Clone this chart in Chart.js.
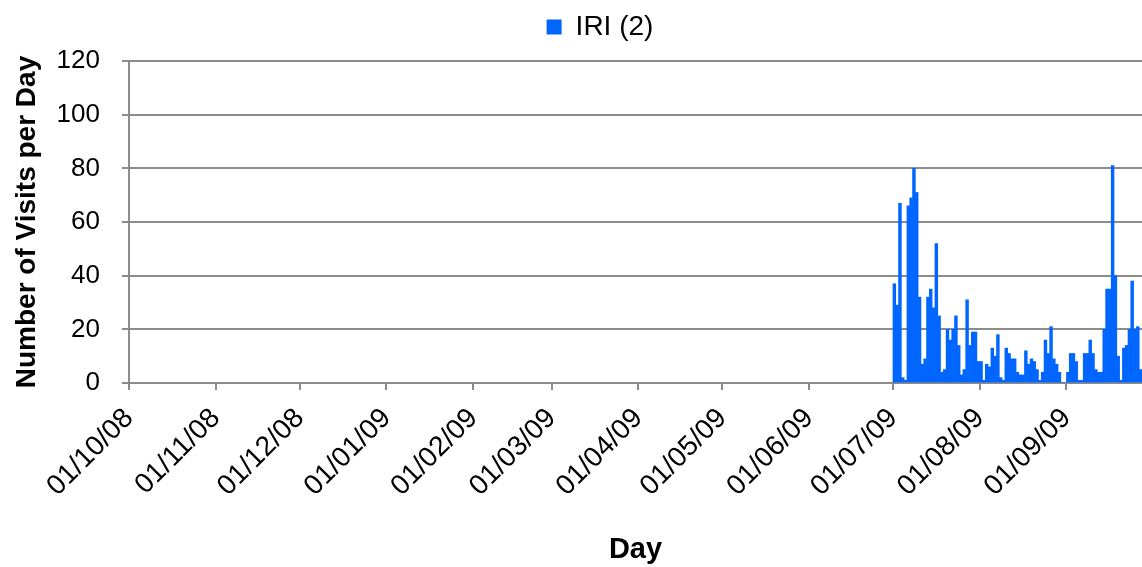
<!DOCTYPE html>
<html>
<head>
<meta charset="utf-8">
<script src="https://cdn.jsdelivr.net/npm/chart.js@4.4.0/dist/chart.umd.min.js"></script>
<style>
  body { margin: 0; background: #fff; }
  #wrap { width: 1142px; height: 567px; }
</style>
</head>
<body>
<div id="wrap"><canvas id="chart"></canvas></div>
<script>
// days counted from 01/10/08 (day 0)
const monthStartDays = [0, 31, 61, 92, 123, 151, 182, 212, 243, 273, 304, 335];
const monthLabels = ["01/10/08", "01/11/08", "01/12/08", "01/01/09", "01/02/09", "01/03/09",
  "01/04/09", "01/05/09", "01/06/09", "01/07/09", "01/08/09", "01/09/09"];
const lastDay = 362;

// visits start on 01/07/09, nothing recorded before
const dataStartDay = 273;
const julyVisits = [37, 29, 67, 2, 1, 66, 69, 80, 71, 32, 7, 9, 32, 35, 28, 52, 25, 4, 5, 20, 16, 20, 25, 14, 3, 5, 31, 14, 19, 19, 8];
const augVisits = [8, 1, 7, 6, 13, 10, 18, 2, 1, 13, 11, 9, 9, 4, 3, 3, 12, 7, 9, 8, 5, 1, 4, 16, 11, 21, 9, 7, 4, 0, 0];
const sepVisits = [4, 11, 11, 8, 1, 1, 11, 11, 16, 11, 5, 4, 4, 20, 35, 35, 81, 40, 10, 1, 13, 14, 20, 38, 20, 21, 5];

const visits = julyVisits.concat(augVisits, sepVisits);
const points = visits.map((v, i) => ({ x: dataStartDay + i + 0.5, y: v }));

Chart.defaults.font.family = "'Liberation Sans', Arial, sans-serif";
Chart.defaults.color = "#000";

const gridGrey = "#8c8c8c";

new Chart(document.getElementById("chart"), {
  type: "bar",
  data: {
    datasets: [
      {
        label: "IRI (2)",
        data: points,
        backgroundColor: "rgb(0, 102, 255)",
        borderWidth: 0,
        barPercentage: 1.0,
        categoryPercentage: 1.0,
      },
    ],
  },
  options: {
    responsive: true,
    maintainAspectRatio: false,
    animation: false,
    layout: { padding: 0 },
    plugins: {
      legend: {
        labels: {
          font: { size: 28 },
          boxWidth: 15,
          boxHeight: 15,
          padding: 13,
        },
      },
      tooltip: { enabled: false },
    },
    scales: {
      x: {
        type: "linear",
        min: 0,
        max: lastDay,
        offset: false,
        afterBuildTicks: (scale) => {
          scale.ticks = monthStartDays.map((d) => ({ value: d }));
        },
        afterFit: (scale) => {
          scale.height = 184;
        },
        ticks: {
          autoSkip: false,
          maxRotation: 45,
          minRotation: 45,
          padding: 12,
          font: { size: 28 },
          callback: (value, index) => monthLabels[index],
        },
        grid: {
          offset: false,
          drawOnChartArea: false,
          drawTicks: true,
          tickLength: 7,
          color: gridGrey,
          lineWidth: 2,
        },
        border: { color: gridGrey, width: 2 },
        title: {
          display: true,
          text: "Day",
          font: { size: 29, weight: "bold" },
          padding: { top: -8, bottom: 0 },
        },
      },
      y: {
        min: 0,
        max: 120,
        afterFit: (scale) => {
          scale.width = 129;
        },
        ticks: {
          stepSize: 20,
          padding: 22,
          font: { size: 26 },
        },
        grid: {
          color: gridGrey,
          lineWidth: 2,
          tickLength: 7,
        },
        border: { color: gridGrey, width: 2 },
        title: {
          display: true,
          text: "Number of Visits per Day",
          font: { size: 28, weight: "bold" },
          padding: { top: 10, bottom: 0 },
        },
      },
    },
  },
  plugins: [
    {
      id: "legendPlace",
      beforeInit(chart) {
        const fit = chart.legend.fit;
        chart.legend.fit = function () {
          fit.call(this);
          this.height = 61;
        };
      },
      afterLayout(chart) {
        // legend sits a little right of the canvas centre
        chart.legend.left += 29;
        chart.legend.right += 29;
      },
    },
  ],
});
</script>
</body>
</html>
